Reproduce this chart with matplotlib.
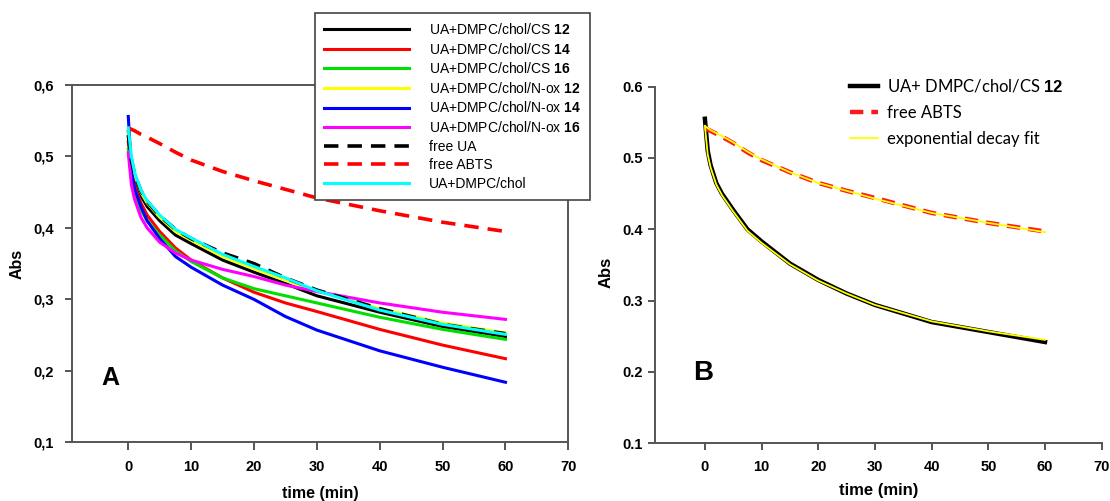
import numpy as np
import matplotlib
matplotlib.use('Agg')
import matplotlib.pyplot as plt

plt.rcParams['font.family'] = ['Liberation Sans', 'DejaVu Sans']
plt.rcParams['mathtext.fontset'] = 'custom'
plt.rcParams['mathtext.rm'] = 'Liberation Sans'
plt.rcParams['mathtext.bf'] = 'Liberation Sans:bold'

# time points (min)
t = [0, 0.5, 1, 2, 3, 5, 7.5, 10, 15, 20, 25, 30, 40, 50, 60]

# panel A
cs12 = [0.535, 0.49, 0.47, 0.445, 0.43, 0.41, 0.39, 0.378, 0.355, 0.338, 0.322, 0.305, 0.282, 0.262, 0.248]
cs14 = [0.52, 0.48, 0.46, 0.435, 0.418, 0.395, 0.372, 0.355, 0.33, 0.31, 0.295, 0.283, 0.258, 0.236, 0.217]
cs16 = [0.51, 0.47, 0.45, 0.425, 0.41, 0.39, 0.368, 0.353, 0.33, 0.315, 0.305, 0.295, 0.275, 0.258, 0.244]
nox12 = [0.535, 0.495, 0.475, 0.45, 0.435, 0.415, 0.395, 0.383, 0.36, 0.343, 0.327, 0.312, 0.287, 0.267, 0.253]
nox14 = [0.556, 0.48, 0.455, 0.43, 0.41, 0.385, 0.36, 0.345, 0.32, 0.3, 0.276, 0.257, 0.228, 0.205, 0.184]
nox16 = [0.505, 0.46, 0.44, 0.415, 0.4, 0.38, 0.365, 0.355, 0.342, 0.332, 0.32, 0.311, 0.295, 0.282, 0.272]
free_ua = [0.53, 0.495, 0.475, 0.452, 0.437, 0.417, 0.398, 0.385, 0.365, 0.35, 0.33, 0.313, 0.287, 0.265, 0.252]
free_abts = [0.54, 0.538, 0.536, 0.531, 0.527, 0.518, 0.506, 0.495, 0.479, 0.466, 0.454, 0.442, 0.424, 0.408, 0.395]
dmpc_chol = [0.54, 0.5, 0.478, 0.453, 0.438, 0.418, 0.398, 0.386, 0.363, 0.346, 0.33, 0.312, 0.285, 0.265, 0.251]

# panel B
b_cs12 = [0.555, 0.51, 0.49, 0.465, 0.45, 0.427, 0.40, 0.383, 0.352, 0.329, 0.31, 0.294, 0.270, 0.256, 0.242]
b_cs12_fit = [0.545, 0.505, 0.487, 0.463, 0.448, 0.425, 0.398, 0.381, 0.351, 0.328, 0.31, 0.294, 0.271, 0.257, 0.245]
b_abts = [0.542, 0.54, 0.538, 0.534, 0.53, 0.521, 0.508, 0.497, 0.48, 0.465, 0.454, 0.444, 0.423, 0.409, 0.397]
b_abts_fit = [0.545, 0.542, 0.539, 0.535, 0.531, 0.522, 0.509, 0.498, 0.48, 0.465, 0.454, 0.443, 0.423, 0.409, 0.396]

xticks = [0, 10, 20, 30, 40, 50, 60, 70]
yticks = [0.1, 0.2, 0.3, 0.4, 0.5, 0.6]

spine_c = '#555555'

fig = plt.figure(figsize=(11.1, 5.01), dpi=100)
axA = fig.add_axes([0.0646, 0.1172, 0.4474, 0.7131])
axB = fig.add_axes([0.5901, 0.1152, 0.4024, 0.7118])

lw = 2.2
axA.plot(t, cs12, color='black', lw=lw, label='UA+DMPC/chol/CS $\\mathbf{12}$')
axA.plot(t, cs14, color='#ff0000', lw=lw, label='UA+DMPC/chol/CS $\\mathbf{14}$')
axA.plot(t, cs16, color='#00e000', lw=lw, label='UA+DMPC/chol/CS $\\mathbf{16}$')
axA.plot(t, nox12, color='#ffff00', lw=lw, label='UA+DMPC/chol/N-ox $\\mathbf{12}$')
axA.plot(t, nox14, color='#0000ff', lw=lw, label='UA+DMPC/chol/N-ox $\\mathbf{14}$')
axA.plot(t, nox16, color='#ff00ff', lw=lw, label='UA+DMPC/chol/N-ox $\\mathbf{16}$')
axA.plot(t, free_ua, color='black', lw=2.6, ls=(0, (4, 2.5)), label='free UA')
axA.plot(t, free_abts, color='#ff0000', lw=2.6, ls=(0, (4, 2.5)), label='free ABTS')
axA.plot(t, dmpc_chol, color='#00ffff', lw=lw, label='UA+DMPC/chol')

axA.set_xlim(-9.0, 70)
axA.set_ylim(0.1, 0.6)
axA.set_xticks(xticks)
axA.set_yticks(yticks)
axA.set_yticklabels([f'{v:.1f}'.replace('.', ',') for v in yticks])
axA.set_xlabel('time (min)', fontsize=11.5, fontweight='bold')
axA.xaxis.set_label_coords(0.5, -0.122)
axA.set_ylabel('Abs', fontsize=11.5, fontweight='bold')
axA.yaxis.set_label_coords(-0.094, 0.5)
axA.text(-2.8, 0.19, 'A', fontsize=18, fontweight='bold', ha='center', va='center')
for s in axA.spines.values():
    s.set_color(spine_c)
    s.set_linewidth(1.4)
axA.tick_params(axis='y', direction='out', length=5, width=1.4, color=spine_c, labelsize=10.5, pad=8)
axA.tick_params(axis='x', direction='out', length=6, width=1.4, color=spine_c, labelsize=10.5, pad=7)
for lab in axA.get_xticklabels() + axA.get_yticklabels():
    lab.set_fontweight('bold')

leg = axA.legend(loc='upper left', bbox_to_anchor=(315 / 1110, 1 - 13 / 501), bbox_transform=fig.transFigure,
                 borderaxespad=0, fontsize=10, handlelength=6.1, handletextpad=1.45, labelspacing=0.33,
                 fancybox=False, framealpha=1, edgecolor='#444444', borderpad=0.65)
leg.get_frame().set_linewidth(1.2)
leg.set_zorder(5)

# panel B
axB.plot(t, b_cs12, color='black', lw=3.2, label='UA+ DMPC/chol/CS $\\mathbf{12}$')
axB.plot(t, b_abts, color='#ff1a1a', lw=3.2, ls=(0, (3, 1.8)), label='free ABTS')
axB.plot(t, b_cs12_fit, color='#ffff00', lw=1.3, label='exponential decay fit')
axB.plot(t, b_abts_fit, color='#ffff00', lw=1.3)

axB.set_xlim(-8.8, 70)
axB.set_ylim(0.1, 0.6)
axB.set_xticks(xticks)
axB.set_yticks(yticks)
axB.spines['top'].set_visible(False)
axB.spines['right'].set_visible(False)
for s in ['left', 'bottom']:
    axB.spines[s].set_color(spine_c)
    axB.spines[s].set_linewidth(1.4)
axB.tick_params(direction='out', length=5, width=1.4, color=spine_c, labelsize=10.5, pad=4)
axB.tick_params(axis='x', pad=7)
for lab in axB.get_xticklabels() + axB.get_yticklabels():
    lab.set_fontweight('bold')
axB.set_xlabel('time (min)', fontsize=12, fontweight='bold')
axB.xaxis.set_label_coords(0.5, -0.111)
axB.set_ylabel('Abs', fontsize=12, fontweight='bold')
axB.yaxis.set_label_coords(-0.092, 0.48)
axB.text(-0.3, 0.198, 'B', fontsize=20, fontweight='bold', ha='center', va='center')
axB.legend(loc='upper left', bbox_to_anchor=(843 / 1110, 1 - 71 / 501), bbox_transform=fig.transFigure,
           borderaxespad=0, frameon=False, handlelength=1.7, handletextpad=0.55, labelspacing=0.6,
           prop={'family': 'Lato', 'size': 12})

fig.savefig('out.png', dpi=100)
